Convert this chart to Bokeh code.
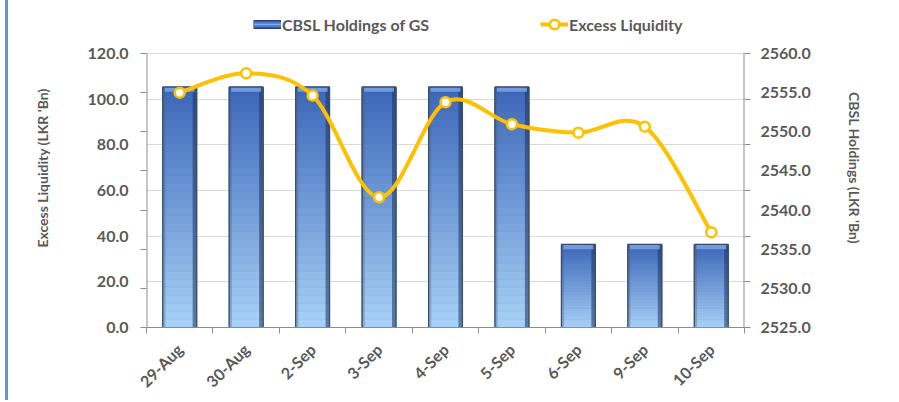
import numpy as np
from bokeh.plotting import figure
from bokeh.models import (Range1d, LinearAxis, FixedTicker, Legend, LegendItem,
                          ColumnDataSource, NumeralTickFormatter)
from bokeh.embed import file_html
from bokeh.resources import INLINE

# ---------------- data ----------------
dates = ["29-Aug", "30-Aug", "2-Sep", "3-Sep", "4-Sep", "5-Sep", "6-Sep", "9-Sep", "10-Sep"]
cbsl_holdings = [2555.7, 2555.7, 2555.7, 2555.7, 2555.7, 2555.7, 2535.6, 2535.6, 2535.6]
excess_liquidity = [102.8, 111.3, 101.5, 57.0, 98.6, 89.0, 85.3, 87.9, 41.7]
left_ticks = [0, 20, 40, 60, 80, 100, 120]
right_ticks = [2525, 2530, 2535, 2540, 2545, 2550, 2555, 2560]

# ---------------- style / layout ----------------
FONT = "Lato"
TXT = "#595959"
AX = "#8c8c8c"
GOLD = "#FFC000"
W, H = 882, 400
BORDER_L, BORDER_R, BORDER_T, BORDER_B = 138, 146, 8, 72
TOP_GAP = 45            # px between frame top and the 120 / 2560 line (room for legend)
PLOT_PX = H - BORDER_T - BORDER_B - TOP_GAP

L0, L1 = left_ticks[0], left_ticks[-1]
R0, R1 = right_ticks[0], right_ticks[-1]
L_END = L1 + (L1 - L0) * TOP_GAP / PLOT_PX
R_END = R1 + (R1 - R0) * TOP_GAP / PLOT_PX
n = len(dates)
xs = np.arange(n, dtype=float)

p = figure(width=W, height=H, output_backend="svg", toolbar_location=None,
           x_range=Range1d(-0.5, n - 0.5), y_range=Range1d(L0, L_END),
           min_border_left=BORDER_L, min_border_right=BORDER_R,
           min_border_top=BORDER_T, min_border_bottom=BORDER_B)
p.extra_y_ranges = {"right": Range1d(R0, R_END)}
p.outline_line_color = None
p.background_fill_color = "white"
p.border_fill_color = "white"
p.styles = {"border-left": "3px solid #5b9bd5", "margin-left": "5px"}

# ---------------- axes ----------------
xa = p.xaxis[0]
xa.ticker = FixedTicker(ticks=list(xs), minor_ticks=[i - 0.5 for i in range(n + 1)])
xa.major_label_overrides = {i: d for i, d in enumerate(dates)}
xa.major_label_orientation = np.pi / 4
xa.major_tick_line_color = None
xa.major_tick_out = 6
xa.minor_tick_in = 0
xa.minor_tick_out = 6
xa.minor_tick_line_color = AX
xa.axis_line_color = AX
xa.major_label_standoff = 13
xa.major_label_text_font = FONT
xa.major_label_text_font_style = "bold"
xa.major_label_text_font_size = "16px"
xa.major_label_text_color = TXT

ya = p.yaxis[0]
left_minor = [(t - R0) / (R1 - R0) * (L1 - L0) + L0 for t in right_ticks]
ya.ticker = FixedTicker(ticks=left_ticks, minor_ticks=left_minor)
ya.formatter = NumeralTickFormatter(format="0.0")
ya.major_tick_line_color = None
ya.major_tick_out = 6
ya.minor_tick_in = 0
ya.minor_tick_out = 6
ya.minor_tick_line_color = AX
ya.axis_line_color = None
ya.major_label_standoff = 12
ya.major_label_text_font = FONT
ya.major_label_text_font_style = "bold"
ya.major_label_text_font_size = "16px"
ya.major_label_text_color = TXT
ya.axis_label = "Excess Liquidity (LKR 'Bn)"
ya.axis_label_text_font = FONT
ya.axis_label_text_font_style = "bold"
ya.axis_label_text_font_size = "14px"
ya.axis_label_text_color = TXT
ya.axis_label_standoff = 34

right_minor = [(t - L0) / (L1 - L0) * (R1 - R0) + R0 for t in left_ticks]
ra = LinearAxis(y_range_name="right",
                ticker=FixedTicker(ticks=right_ticks, minor_ticks=right_minor),
                formatter=NumeralTickFormatter(format="0.0"))
ra.major_tick_line_color = None
ra.major_tick_out = 6
ra.minor_tick_in = 0
ra.minor_tick_out = 6
ra.minor_tick_line_color = AX
ra.axis_line_color = None
ra.major_label_standoff = 10
ra.major_label_text_font = FONT
ra.major_label_text_font_style = "bold"
ra.major_label_text_font_size = "16px"
ra.major_label_text_color = TXT
ra.axis_label = "CBSL Holdings (LKR 'Bn)"
ra.axis_label_text_font = FONT
ra.axis_label_text_font_style = "bold"
ra.axis_label_text_font_size = "14px"
ra.axis_label_text_color = TXT
ra.axis_label_standoff = 32
p.add_layout(ra, "right")

p.xgrid.visible = False
p.ygrid.ticker = ya.ticker
p.ygrid.grid_line_color = "#d9d9d9"
p.ygrid.grid_line_width = 1

# vertical axis lines that stop at the top tick
p.segment(x0=[-0.5], y0=[L0], x1=[-0.5], y1=[L1], line_color=AX, line_width=2)
p.segment(x0=[n - 0.5], y0=[R0], x1=[n - 0.5], y1=[R1], y_range_name="right",
          line_color=AX, line_width=2)

# ---------------- bars (gradient) ----------------
BW = 0.51
p.vbar(x=xs, top=cbsl_holdings, bottom=R0, width=BW, y_range_name="right",
       fill_color="#4672c4", line_color="#2b3f5c", line_width=1)

NS = 30
top_rgb = np.array([0x3c, 0x66, 0xb8])
bot_rgb = np.array([0xa8, 0xd2, 0xf6])
sx, sb, st, sc = [], [], [], []
for i, h in enumerate(cbsl_holdings):
    for k in range(NS):
        f0, f1 = k / NS, (k + 1) / NS
        c = bot_rgb + (top_rgb - bot_rgb) * ((f0 + f1) / 2)
        sx.append(xs[i])
        sb.append(R0 + (h - R0) * f0)
        st.append(R0 + (h - R0) * f1)
        sc.append("#%02x%02x%02x" % tuple(int(round(v)) for v in c))
p.vbar(x=sx, top=st, bottom=sb, width=BW, y_range_name="right",
       fill_color=sc, line_color=sc, line_width=0.6)

p.vbar(x=xs + BW / 2 - 0.03, top=cbsl_holdings, bottom=R0, width=0.06, y_range_name="right",
       fill_color="#1c3260", fill_alpha=0.55, line_color=None)
p.vbar(x=xs - BW / 2 + 0.02, top=cbsl_holdings, bottom=R0, width=0.04, y_range_name="right",
       fill_color="#4a5f80", fill_alpha=0.35, line_color=None)
p.vbar(x=xs, top=cbsl_holdings, bottom=np.array(cbsl_holdings) - 0.6, width=BW - 0.06,
       y_range_name="right", fill_color="#7fa6e6", fill_alpha=0.8, line_color=None)
p.vbar(x=xs, top=cbsl_holdings, bottom=R0, width=BW, y_range_name="right",
       fill_alpha=0, line_color="#3a4d68", line_width=1.2)

# legend-only renderers for the bar icon (all-NaN, so nothing is drawn in the plot)
nan_y = [float("nan")] * n
leg_bar_outer = p.line(x=xs, y=nan_y, line_color="#2a4170", line_width=9)
leg_bar_inner = p.line(x=xs, y=nan_y, line_color="#4d7bcb", line_width=6)
leg_bar_hi = p.line(x=xs, y=nan_y, line_color="#7fa6e6", line_width=1.5)

# ---------------- smoothed line ----------------
ys = np.array(excess_liquidity, dtype=float)
px = np.concatenate([[xs[0]], xs, [xs[-1]]])
py = np.concatenate([[ys[0]], ys, [ys[-1]]])
m = n - 1
src = ColumnDataSource(dict(
    x0=px[1:m + 1], y0=py[1:m + 1],
    x1=px[2:m + 2], y1=py[2:m + 2],
    cx0=px[1:m + 1] + (px[2:m + 2] - px[0:m]) / 6,
    cy0=py[1:m + 1] + (py[2:m + 2] - py[0:m]) / 6,
    cx1=px[2:m + 2] - (px[3:m + 3] - px[1:m + 1]) / 6,
    cy1=py[2:m + 2] - (py[3:m + 3] - py[1:m + 1]) / 6,
))
curve = p.bezier(x0="x0", y0="y0", x1="x1", y1="y1", cx0="cx0", cy0="cy0",
                 cx1="cx1", cy1="cy1", source=src, line_color=GOLD, line_width=4)
pts = p.scatter(xs, ys, size=10, marker="circle", fill_color="white",
                line_color=GOLD, line_width=2.5)

# ---------------- legend (inside the frame's top strip) ----------------
FRAME_H = H - BORDER_T - BORDER_B
lg = Legend(items=[LegendItem(label="CBSL Holdings of GS",
                              renderers=[leg_bar_outer, leg_bar_inner, leg_bar_hi]),
                   LegendItem(label="Excess Liquidity", renderers=[curve, pts])],
            location=(107, FRAME_H - 29), orientation="horizontal", spacing=111,
            glyph_width=28, glyph_height=24, label_standoff=1, padding=0, margin=0,
            border_line_color=None, background_fill_alpha=0,
            label_text_font=FONT, label_text_font_style="bold",
            label_text_font_size="16px", label_text_color=TXT, label_height=20)
p.add_layout(lg, "center")

open("out.html", "w").write(file_html(p, INLINE))
